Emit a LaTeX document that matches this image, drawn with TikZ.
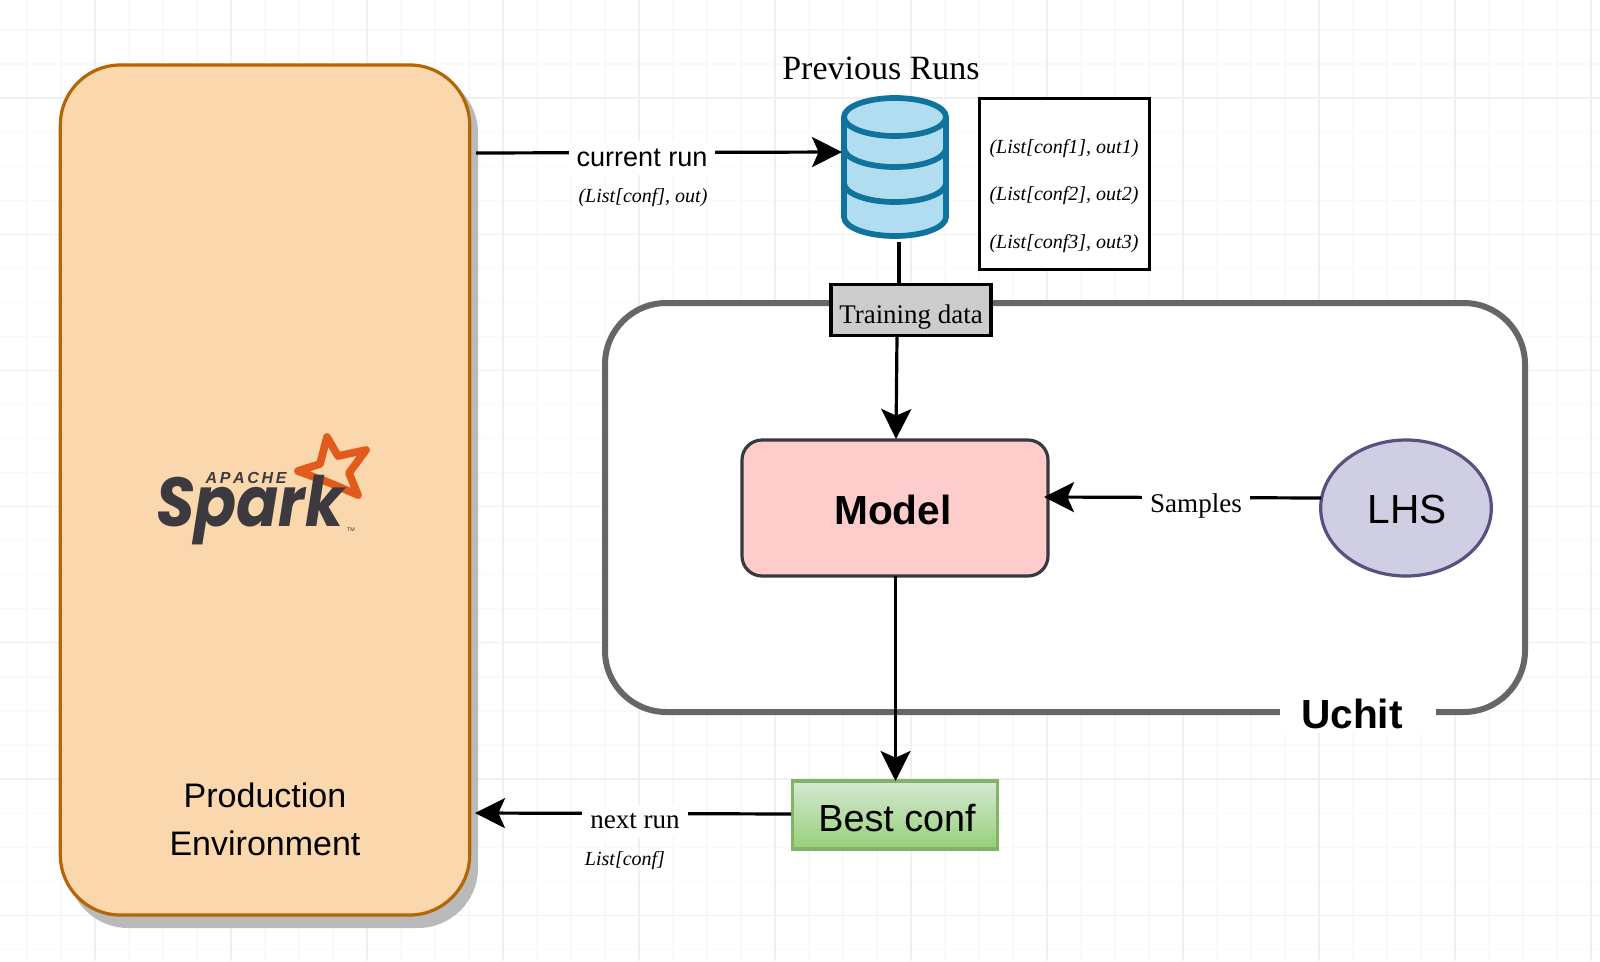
\documentclass[tikz,border=0pt]{standalone}
\usepackage{fontspec}
\setmainfont{Liberation Serif}
\setsansfont{Liberation Sans}
\newfontfamily\sparkfont{Poppins}
\usetikzlibrary{arrows.meta,shapes.geometric,backgrounds}
\definecolor{gridminor}{HTML}{F9F9F9}
\definecolor{gridmajor}{HTML}{F0F0F0}
\definecolor{orangefill}{HTML}{FAD7AC}
\definecolor{orangeline}{HTML}{B46504}
\definecolor{dbfill}{HTML}{B1DDF0}
\definecolor{dbline}{HTML}{10739E}
\definecolor{pinkfill}{HTML}{FFCCCC}
\definecolor{pinkline}{HTML}{36393D}
\definecolor{lilacfill}{HTML}{D0CEE2}
\definecolor{lilacline}{HTML}{56517E}
\definecolor{greenline}{HTML}{82B366}
\definecolor{greentop}{HTML}{D5E8D4}
\definecolor{greenbottom}{HTML}{97D077}
\definecolor{sparkdark}{HTML}{3C3A3E}
\definecolor{sparkorange}{HTML}{E25A1C}
\tikzset{
  conn/.style={draw=black,line width=2.4pt},
  arrowconn/.style={conn,-{Stealth[length=22.5pt,width=22.5pt,inset=5pt]}},
  lbl/.style={fill=white,inner sep=6pt,font=\fontsize{20.3}{24}\selectfont},
  sublbl/.style={font=\fontsize{15}{18}\selectfont\itshape,inner sep=0pt},
  headsans/.style={font=\sffamily\bfseries\fontsize{30.5}{36}\selectfont},
}
\begin{document}
\begin{tikzpicture}[x=0.75pt,y=-0.75pt]
\useasboundingbox (0,0) rectangle (1600,961);
\fill[white] (0,0) rectangle (1600,961);
% grid
\foreach \k in {-2,...,46} \draw[gridminor,line width=0.9pt] ({27+34*\k},0) -- ++(0,961);
\foreach \k in {-1,...,28} \draw[gridminor,line width=0.9pt] (0,{30+34.05*\k}) -- ++(1600,0);
\foreach \k in {0,...,11} \draw[gridmajor,line width=0.9pt] ({95+136*\k},0) -- ++(0,961);
\foreach \k in {0,...,6} \draw[gridmajor,line width=0.9pt] (0,{98+136.2*\k}) -- ++(1600,0);
% production environment
\fill[black!27,rounded corners=45pt] (68,73) rectangle (478,928);
\node[draw=orangeline,fill=orangefill,line width=2.4pt,rounded corners=45pt,minimum width=307pt,minimum height=637.5pt,inner sep=0pt] (prod) at (265,490) {};
\node[font=\sffamily\fontsize{25.5}{36}\selectfont,align=center,inner sep=0pt] (prodlabel) at (265,819) {Production\\Environment};
% spark logo
\draw[sparkorange,line width=5.8pt,line join=round] (327,437) -- (338,456) -- (366,450) -- (349,473) -- (358,495) -- (330,483) -- (298,471) -- (320,464) -- cycle;
\node[text=sparkdark,font=\sffamily\bfseries\itshape\fontsize{12}{14}\selectfont,inner sep=0pt] (apache) at (246,478) {A\,P\,A\,C\,H\,E};
\node[text=sparkdark,font=\sparkfont\bfseries\itshape\fontsize{49}{50}\selectfont,inner sep=0pt,anchor=base,xscale=0.95,yscale=1.06] (spark) at (250,526) {Spark};
\node[text=sparkdark,font=\sffamily\fontsize{4}{5}\selectfont,inner sep=0pt] (tm) at (351,530) {TM};
% uchit
\node[draw=black!60,line width=4.5pt,fill=white,rounded corners=46pt,minimum width=690pt,minimum height=306.75pt,inner sep=0pt] (uchit) at (1065,507.5) {};
\node[headsans,fill=white,inner xsep=16pt,inner ysep=3pt] (uchitlabel) at (1358,714) {Uchit\hspace*{9pt}};
% database
\begin{scope}[line width=4.3pt]
\draw[dbline,fill=dbfill] (844,117) -- (844,217) arc[start angle=180,end angle=0,x radius=51,y radius=19] -- (946,117) arc[start angle=0,end angle=-180,x radius=51,y radius=19] -- cycle;
\draw[dbline] (844,117) arc[start angle=180,end angle=0,x radius=51,y radius=19];
\draw[dbline] (844,148) arc[start angle=180,end angle=0,x radius=51,y radius=19];
\draw[dbline] (844,183) arc[start angle=180,end angle=0,x radius=51,y radius=19];
\end{scope}
\node[inner sep=0pt,minimum width=79.5pt,minimum height=106pt] (db) at (895,167) {};
\node[font=\fontsize{25.5}{30}\selectfont,inner sep=0pt] (prev) at (881,68) {Previous Runs};
% list table
\node[draw=black,line width=2.4pt,fill=white,minimum width=128pt,minimum height=128pt,inner sep=0pt] (table) at (1064.5,184) {};
\node[sublbl] (r1) at (1064,149) {(List[conf1], out1)};
\node[sublbl] (r2) at (1064,196) {(List[conf2], out2)};
\node[sublbl] (r3) at (1064,244) {(List[conf3], out3)};
% training data
\node[draw=black,line width=2.4pt,fill=black!20,minimum width=120pt,minimum height=38pt,inner sep=0pt] (train) at (911,310) {};
\node[font=\fontsize{20.2}{24}\selectfont,inner sep=0pt] (traintext) at (911,317) {Training data};
% model
\node[draw=pinkline,fill=pinkfill,line width=2.4pt,rounded corners=15pt,minimum width=229.5pt,minimum height=102pt,inner sep=0pt] (model) at (895,508) {};
\node[headsans,inner sep=0pt] (modeltext) at (893,510) {Model};
% lhs
\node[ellipse,draw=lilacline,fill=lilacfill,line width=2.4pt,minimum width=128pt,minimum height=102pt,inner sep=0pt] (lhs) at (1406,508) {};
\node[font=\sffamily\fontsize{30.5}{36}\selectfont,inner sep=0pt] (lhstext) at (1407,509) {LHS};
% best conf
\node[draw=greenline,line width=2.4pt,top color=greentop,bottom color=greenbottom,minimum width=153.5pt,minimum height=51pt,inner sep=0pt] (best) at (895,815) {};
\node[font=\sffamily\fontsize{28.3}{34}\selectfont,inner sep=0pt] (besttext) at (897,818) {Best conf};
% connectors
\coordinate (c1) at (476,153);
\coordinate (c2) at (842,152);
\draw[arrowconn] (c1) -- (c2);
\node[lbl,font=\sffamily\fontsize{20.3}{24}\selectfont] (curr) at (642,158) {current run};
\node[sublbl] (currsub) at (643,198) {(List[conf], out)};
\coordinate (c3) at (899,242);
\draw[conn] (c3) -- (c3 |- train.north);
\coordinate (c4) at (897,336);
\coordinate (c4b) at (896,439);
\draw[arrowconn] (c4) -- (c4b);
\coordinate (c5) at (1321,498);
\coordinate (c6) at (1044,497);
\draw[arrowconn] (c5) -- (c6);
\node[lbl] (samples) at (1196,506) {Samples};
\coordinate (c9) at (895.5,576);
\coordinate (c10) at (895.5,781);
\draw[arrowconn] (c9) -- (c10);
\coordinate (c7) at (791,814);
\coordinate (c8) at (475,813);
\draw[arrowconn] (c7) -- (c8);
\node[lbl] (next) at (635,821) {next run};
\node[sublbl] (nextsub) at (625,861) {List[conf]};
\end{tikzpicture}
\end{document}
